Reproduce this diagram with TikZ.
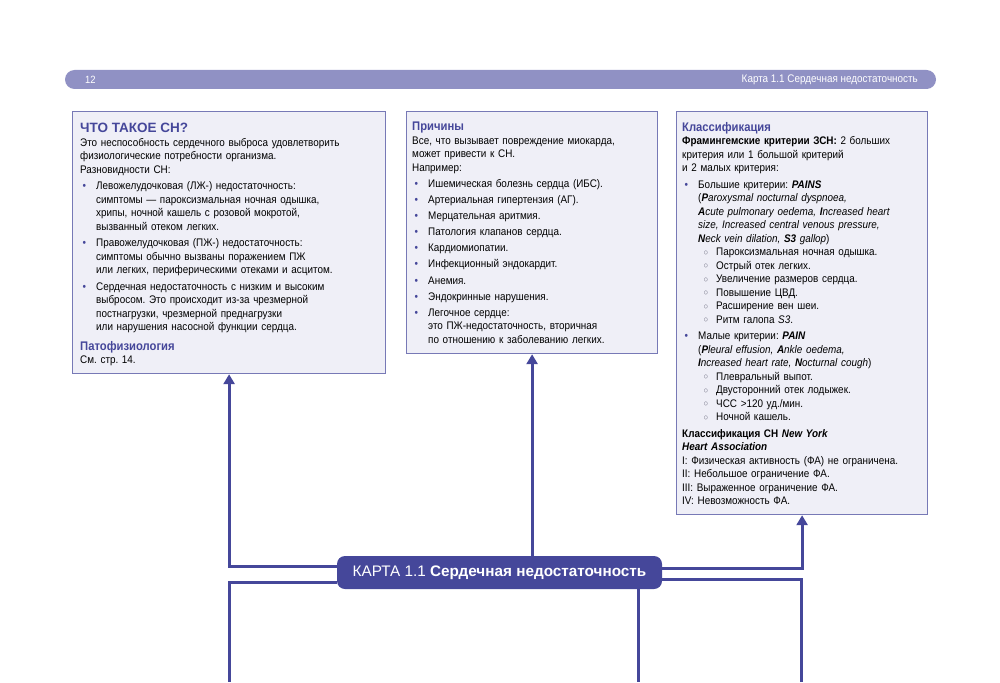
\documentclass[tikz,border=0pt]{standalone}
\usepackage{fontspec}
\setmainfont{Liberation Sans}[FakeStretch=0.9]
\newfontfamily\widefont{Liberation Sans}
\usetikzlibrary{positioning,arrows.meta}
\setlength\parindent{0pt}
\frenchspacing

\definecolor{mapblue}{HTML}{45479A}
\definecolor{barblue}{HTML}{9091C4}
\definecolor{boxedge}{HTML}{7779B6}
\definecolor{boxfill}{HTML}{EFEFF7}
\definecolor{subgray}{HTML}{55556A}

% headings, bullets and sub bullets
\newlength\itemgap
\setlength\itemgap{3pt}
\newcommand\hd[1]{{\color{mapblue}\bfseries\fontsize{12.5}{13.5}\selectfont #1}}
\newcommand\itm[1]{\par\vspace{\itemgap}\hangindent=16pt\hangafter=0\noindent\llap{\textcolor{mapblue}{\textbullet}\hspace{10pt}}#1}
\newcommand\subitm[1]{\par\hangindent=34pt\hangafter=0\noindent\llap{\raisebox{0.6pt}{\textcolor{subgray}{\fontsize{8.5}{8.5}\selectfont ○}}\hspace{8pt}}#1}

\tikzset{
  frame/.style={draw=boxedge, line width=1.2pt, fill=boxfill, anchor=north west, inner sep=0pt},
  txt/.style={anchor=north west, inner sep=0pt, text width=305pt, align=left,
    font=\fontsize{11}{13.5}\selectfont},
  card/.style={fill=mapblue, rounded corners=8pt, text=white, minimum width=325pt,
    minimum height=33pt, inner sep=0pt, font=\widefont\fontsize{15.3}{16}\selectfont},
  link/.style={draw=mapblue, line width=3pt},
  arr/.style={link, -{Triangle[width=11pt,length=10pt]}}
}

\begin{document}
\begin{tikzpicture}[x=1pt,y=-1pt]
  \useasboundingbox (0,0) rectangle (1000,682);

  % running head
  \node[fill=barblue, rounded corners=9.5pt, minimum width=871pt, minimum height=19pt, inner sep=0pt] (bar) at (500.5,79.5) {};
  \node[anchor=west, text=white, inner sep=0pt, font=\fontsize{10.5}{12}\selectfont] (page) at (85,79.5) {12};
  \node[anchor=east, text=white, inner sep=0pt, font=\fontsize{11}{12}\selectfont] (runhead) at (918,79.5) {Карта 1.1 Сердечная недостаточность};

  % boxes
  \node[frame, minimum width=313pt, minimum height=262pt] (what) at (72,111) {};
  \node[frame, minimum width=251pt, minimum height=242pt] (cause) at (406,111) {};
  \node[frame, minimum width=251pt, minimum height=403pt] (klass) at (676,111) {};

  \node[txt] (whattext) at ([xshift=8pt,yshift=-12pt]what.north west) {%
    {\color{mapblue}\widefont\bfseries\fontsize{13.5}{13.5}\selectfont ЧТО ТАКОЕ СН?}\par
    Это неспособность сердечного выброса удовлетворить\newline
    физиологические потребности организма.\newline
    Разновидности СН:
    \itm{Левожелудочковая (ЛЖ-) недостаточность:\newline
      симптомы — пароксизмальная ночная одышка,\newline
      хрипы, ночной кашель с розовой мокротой,\newline
      вызванный отеком легких.}
    \itm{Правожелудочковая (ПЖ-) недостаточность:\newline
      симптомы обычно вызваны поражением ПЖ\newline
      или легких, периферическими отеками и асцитом.}
    \itm{Сердечная недостаточность с низким и высоким\newline
      выбросом. Это происходит из-за чрезмерной\newline
      постнагрузки, чрезмерной преднагрузки\newline
      или нарушения насосной функции сердца.}
    \par\vspace{6pt}
    \hd{Патофизиология}\par
    См. стр. 14.\par};

  \node[txt] (causetext) at ([xshift=6pt,yshift=-11pt]cause.north west) {%
    \setlength\itemgap{2.6pt}%
    \hd{Причины}\par
    Все, что вызывает повреждение миокарда,\newline
    может привести к СН.\newline
    Например:
    \itm{Ишемическая болезнь сердца (ИБС).}
    \itm{Артериальная гипертензия (АГ).}
    \itm{Мерцательная аритмия.}
    \itm{Патология клапанов сердца.}
    \itm{Кардиомиопатии.}
    \itm{Инфекционный эндокардит.}
    \itm{Анемия.}
    \itm{Эндокринные нарушения.}
    \itm{Легочное сердце:\newline
      это ПЖ-недостаточность, вторичная\newline
      по отношению к заболеванию легких.}\par};

  \node[txt] (klasstext) at ([xshift=6pt,yshift=-11pt]klass.north west) {%
    \hd{Классификация}\par
    \textbf{Фрамингемские критерии ЗСН:} 2 больших\newline
    критерия или 1 большой критерий\newline
    и 2 малых критерия:
    \itm{Большие критерии: \textbf{\textit{PAINS}}\newline
      (\textit{\textbf{P}aroxysmal nocturnal dyspnoea,\newline
      \textbf{A}cute pulmonary oedema, \textbf{I}ncreased heart\newline
      size, Increased central venous pressure,\newline
      \textbf{N}eck vein dilation, \textbf{S3} gallop})}
    \subitm{Пароксизмальная ночная одышка.}
    \subitm{Острый отек легких.}
    \subitm{Увеличение размеров сердца.}
    \subitm{Повышение ЦВД.}
    \subitm{Расширение вен шеи.}
    \subitm{Ритм галопа \textit{S3}.}
    \itm{Малые критерии: \textbf{\textit{PAIN}}\newline
      (\textit{\textbf{P}leural effusion, \textbf{A}nkle oedema,\newline
      \textbf{I}ncreased heart rate, \textbf{N}octurnal cough})}
    \subitm{Плевральный выпот.}
    \subitm{Двусторонний отек лодыжек.}
    \subitm{ЧСС >120 уд./мин.}
    \subitm{Ночной кашель.}
    \par\vspace{3pt}
    \textbf{Классификация СН \textit{New York\newline Heart Association}}\par
    I: Физическая активность (ФА) не ограничена.\par
    II: Небольшое ограничение ФА.\par
    III: Выраженное ограничение ФА.\par
    IV: Невозможность ФА.\par};

  % central card
  \node[card] (card) at (499.5,572.5) {КАРТА 1.1 \textbf{Сердечная недостаточность}};

  \coordinate (downL) at (229,682);
  \coordinate (downM) at (638,682);
  \coordinate (downR) at (801.5,682);

  % connectors
  \draw[arr] ([yshift=6.5pt]card.west) -| (what.south);
  \draw[arr] (cause.south |- card.north) -- (cause.south);
  \draw[arr] ([yshift=4.5pt]card.east) -| (klass.south);
  \draw[link] ([yshift=-9.5pt]card.west) -| (downL);
  \draw[link] (card.south -| downM) -- (downM);
  \draw[link] ([yshift=-6.5pt]card.east) -| (downR);
\end{tikzpicture}
\end{document}
